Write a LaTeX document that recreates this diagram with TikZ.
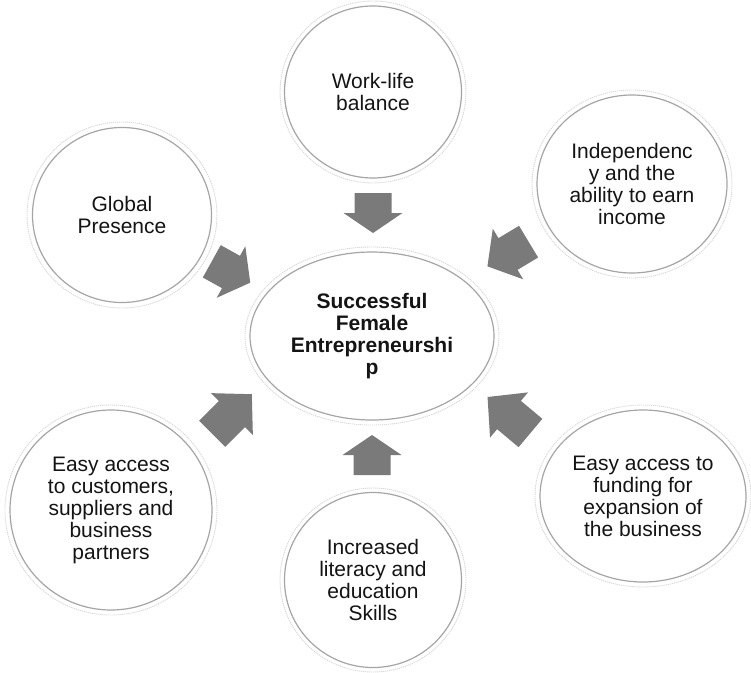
\documentclass[tikz,border=0pt]{standalone}
\usepackage{fontspec}
\setmainfont{Liberation Sans}
\usetikzlibrary{shapes.geometric}

\definecolor{arrowgray}{RGB}{122,122,122}
\definecolor{rimgray}{RGB}{165,165,165}
\definecolor{halogray}{RGB}{215,215,215}
\definecolor{inkgray}{RGB}{20,20,20}

\tikzset{
  bubble/.style={ellipse, draw=rimgray, line width=1.2pt, fill=white,
    inner sep=0pt, align=center, text=inkgray,
    font=\fontsize{21}{22}\selectfont},
  halo/.style={draw=halogray, line width=0.9pt, dash pattern=on 1.2pt off 0.8pt},
  arrowfill/.style={fill=arrowgray},
}

% block arrow: centre x, centre y, direction (degrees), length
\newcommand\bigarrow[4]{%
  \fill[arrowfill, shift={(#1,#2)}, rotate=#3]
    (-#4/2,-18.5) -- (0,-18.5) -- (0,-29.5) -- (#4/2,0)
    -- (0,29.5) -- (0,18.5) -- (-#4/2,18.5) -- cycle;}

\begin{document}
\begin{tikzpicture}[x=1pt,y=-1pt]
\useasboundingbox (0,0) rectangle (751,672);

% outer faint rings
\draw[halo] (373,92) ellipse (93 and 91);
\draw[halo] (122,215) ellipse (95 and 93);
\draw[halo] (632,184) ellipse (100 and 94);
\draw[halo] (111,510) ellipse (106 and 105);
\draw[halo] (373,580) ellipse (93 and 92);
\draw[halo] (643,496) ellipse (108 and 91);
\draw[halo] (372,336) ellipse (127 and 89);

% surrounding factors
\node[bubble, minimum width=177pt, minimum height=172pt] (work) at (373,92)
  {Work-life\\balance};
\node[bubble, minimum width=179pt, minimum height=175pt] (global) at (122,215)
  {Global\\Presence};
\node[bubble, minimum width=190pt, minimum height=178pt] (indep) at (632,184)
  {Independenc\\y and the\\ability to earn\\income};
\node[bubble, minimum width=202pt, minimum height=200pt] (access) at (111,510)
  {Easy access\\to customers,\\suppliers and\\business\\partners};
\node[bubble, minimum width=177pt, minimum height=175pt] (literacy) at (373,580)
  {Increased\\literacy and\\education\\Skills};
\node[bubble, minimum width=206pt, minimum height=172pt] (funding) at (643,496)
  {Easy access to\\funding for\\expansion of\\the business};

% central outcome
\node[bubble, minimum width=244pt, minimum height=168pt,
      font=\fontsize{21}{22}\selectfont\bfseries] (core) at (372,336)
  {Successful\\Female\\Entrepreneurshi\\p};

% arrows pointing into the centre
\bigarrow{373}{213}{-90}{40}
\bigarrow{231}{272}{-29}{44}
\bigarrow{508}{254}{-149}{48}
\bigarrow{232}{414}{45}{56}
\bigarrow{509}{415}{140}{56}
\bigarrow{372}{455}{90}{40}
\end{tikzpicture}
\end{document}
